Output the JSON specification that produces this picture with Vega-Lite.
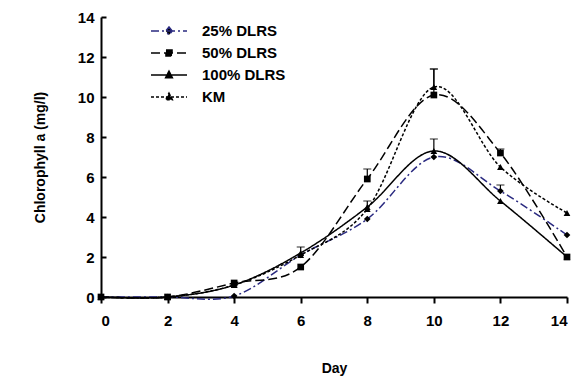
{
  "$schema": "https://vega.github.io/schema/vega-lite/v6.json",
  "width": 466,
  "height": 280,
  "autosize": "none",
  "padding": {"left": 101, "top": 17, "right": 10, "bottom": 88},
  "background": "white",
  "datasets": {
    "series": [
      {"day": 0, "chl": 0, "treatment": "25% DLRS"},
      {"day": 2, "chl": 0, "treatment": "25% DLRS"},
      {"day": 4, "chl": 0.05, "treatment": "25% DLRS"},
      {"day": 6, "chl": 2.1, "treatment": "25% DLRS"},
      {"day": 8, "chl": 3.9, "treatment": "25% DLRS"},
      {"day": 10, "chl": 7.0, "treatment": "25% DLRS"},
      {"day": 12, "chl": 5.3, "treatment": "25% DLRS"},
      {"day": 14, "chl": 3.1, "treatment": "25% DLRS"},
      {"day": 0, "chl": 0, "treatment": "50% DLRS"},
      {"day": 2, "chl": 0, "treatment": "50% DLRS"},
      {"day": 4, "chl": 0.7, "treatment": "50% DLRS"},
      {"day": 6, "chl": 1.5, "treatment": "50% DLRS"},
      {"day": 8, "chl": 5.9, "treatment": "50% DLRS"},
      {"day": 10, "chl": 10.1, "treatment": "50% DLRS"},
      {"day": 12, "chl": 7.2, "treatment": "50% DLRS"},
      {"day": 14, "chl": 2.0, "treatment": "50% DLRS"},
      {"day": 0, "chl": 0, "treatment": "100% DLRS"},
      {"day": 2, "chl": 0, "treatment": "100% DLRS"},
      {"day": 4, "chl": 0.6, "treatment": "100% DLRS"},
      {"day": 6, "chl": 2.2, "treatment": "100% DLRS"},
      {"day": 8, "chl": 4.5, "treatment": "100% DLRS"},
      {"day": 10, "chl": 7.3, "treatment": "100% DLRS"},
      {"day": 12, "chl": 4.8, "treatment": "100% DLRS"},
      {"day": 14, "chl": 2.0, "treatment": "100% DLRS"},
      {"day": 0, "chl": 0, "treatment": "KM"},
      {"day": 2, "chl": 0, "treatment": "KM"},
      {"day": 4, "chl": 0.6, "treatment": "KM"},
      {"day": 6, "chl": 2.1, "treatment": "KM"},
      {"day": 8, "chl": 4.4, "treatment": "KM"},
      {"day": 10, "chl": 10.5, "treatment": "KM"},
      {"day": 12, "chl": 6.5, "treatment": "KM"},
      {"day": 14, "chl": 4.2, "treatment": "KM"}
    ],
    "errors": [
      {"day": 6, "lo": 2.2, "hi": 2.5, "treatment": "100% DLRS"},
      {"day": 8, "lo": 5.9, "hi": 6.4, "treatment": "50% DLRS"},
      {"day": 8, "lo": 4.5, "hi": 4.8, "treatment": "100% DLRS"},
      {"day": 10, "lo": 10.1, "hi": 11.4, "treatment": "50% DLRS"},
      {"day": 10, "lo": 10.5, "hi": 11.4, "treatment": "KM"},
      {"day": 10, "lo": 7.3, "hi": 7.9, "treatment": "100% DLRS"},
      {"day": 12, "lo": 5.3, "hi": 5.6, "treatment": "25% DLRS"},
      {"day": 12, "lo": 7.2, "hi": 7.4, "treatment": "50% DLRS"}
    ]
  },
  "config": {
    "view": {"stroke": null},
    "font": "Liberation Sans",
    "axis": {
      "grid": false,
      "domainColor": "black",
      "domainWidth": 2,
      "tickColor": "black",
      "tickWidth": 2,
      "labelOverlap": false,
      "labelFont": "Liberation Sans",
      "labelFontWeight": "bold",
      "labelFontSize": 15,
      "labelColor": "black",
      "titleFont": "Liberation Sans",
      "titleFontWeight": "bold",
      "titleFontSize": 14,
      "titleColor": "black"
    },
    "legend": {
      "orient": "none",
      "legendX": 59,
      "legendY": 5,
      "padding": 0,
      "title": null,
      "labelFont": "Liberation Sans",
      "labelFontSize": 15,
      "labelFontWeight": "bold",
      "labelColor": "black",
      "symbolSize": 256,
      "symbolStrokeWidth": 1.5,
      "rowPadding": 5,
      "labelOffset": 24
    }
  },
  "layer": [
    {
      "data": {"name": "series"},
      "mark": {"type": "line", "interpolate": "cardinal", "strokeWidth": 1.5},
      "encoding": {
        "x": {"field": "day", "type": "quantitative", "scale": {"domain": [0, 14], "nice": false},
          "axis": {"values": [0, 2, 4, 6, 8, 10, 12, 14], "tickSize": 6, "labelPadding": 10, "title": "Day", "titlePadding": 33}},
        "y": {"field": "chl", "type": "quantitative", "scale": {"domain": [0, 14], "nice": false},
          "axis": {"values": [0, 2, 4, 6, 8, 10, 12, 14], "tickSize": -5, "labelPadding": 12, "title": "Chlorophyll a (mg/l)", "titlePadding": 30}},
        "color": {"field": "treatment", "type": "nominal",
          "scale": {"domain": ["25% DLRS", "50% DLRS", "100% DLRS", "KM"], "range": ["#2a2a80", "black", "black", "black"]},
          "legend": {
            "encode": {
              "symbols": {
                "update": {
                  "shape": {"signal": "datum.value === '25% DLRS' ? 'M-2.25,0L2.25,0M0,-0.5L0.4,0L0,0.5L-0.4,0Z' : datum.value === '50% DLRS' ? 'M-2.25,0L2.25,0M-0.38,-0.38L0.38,-0.38L0.38,0.38L-0.38,0.38Z' : 'M-2.25,0L2.25,0M0,-0.48L0.42,0.34L-0.42,0.34Z'"},
                  "fill": {"value": "black"}
                }
              }
            }
          }},
        "strokeDash": {"field": "treatment", "type": "nominal",
          "scale": {"domain": ["25% DLRS", "50% DLRS", "100% DLRS", "KM"], "range": [[8, 3, 2, 3], [9, 4], [1, 0], [3, 2]]}}
      }
    },
    {
      "data": {"name": "series"},
      "transform": [{"filter": "datum.treatment === '25% DLRS'"}],
      "mark": {"type": "point", "filled": true, "size": 45, "opacity": 1, "color": "black", "shape": "diamond"},
      "encoding": {
        "x": {"field": "day", "type": "quantitative",
          "axis": {"values": [0, 2, 4, 6, 8, 10, 12, 14], "tickSize": 6, "labelPadding": 10, "title": "Day", "titlePadding": 33}},
        "y": {"field": "chl", "type": "quantitative",
          "axis": {"values": [0, 2, 4, 6, 8, 10, 12, 14], "tickSize": -5, "labelPadding": 12, "title": "Chlorophyll a (mg/l)", "titlePadding": 30}}
      }
    },
    {
      "data": {"name": "series"},
      "transform": [{"filter": "datum.treatment === '50% DLRS'"}],
      "mark": {"type": "point", "filled": true, "size": 45, "opacity": 1, "color": "black", "shape": "square"},
      "encoding": {
        "x": {"field": "day", "type": "quantitative",
          "axis": {"values": [0, 2, 4, 6, 8, 10, 12, 14], "tickSize": 6, "labelPadding": 10, "title": "Day", "titlePadding": 33}},
        "y": {"field": "chl", "type": "quantitative",
          "axis": {"values": [0, 2, 4, 6, 8, 10, 12, 14], "tickSize": -5, "labelPadding": 12, "title": "Chlorophyll a (mg/l)", "titlePadding": 30}}
      }
    },
    {
      "data": {"name": "series"},
      "transform": [{"filter": "datum.treatment === '100% DLRS' || datum.treatment === 'KM'"}],
      "mark": {"type": "point", "filled": true, "size": 45, "opacity": 1, "color": "black", "shape": "triangle-up"},
      "encoding": {
        "x": {"field": "day", "type": "quantitative",
          "axis": {"values": [0, 2, 4, 6, 8, 10, 12, 14], "tickSize": 6, "labelPadding": 10, "title": "Day", "titlePadding": 33}},
        "y": {"field": "chl", "type": "quantitative",
          "axis": {"values": [0, 2, 4, 6, 8, 10, 12, 14], "tickSize": -5, "labelPadding": 12, "title": "Chlorophyll a (mg/l)", "titlePadding": 30}}
      }
    },
    {
      "data": {"name": "errors"},
      "mark": {"type": "rule", "color": "black", "strokeWidth": 1.2},
      "encoding": {
        "x": {"field": "day", "type": "quantitative",
          "axis": {"values": [0, 2, 4, 6, 8, 10, 12, 14], "tickSize": 6, "labelPadding": 10, "title": "Day", "titlePadding": 33}},
        "y": {"field": "lo", "type": "quantitative",
          "axis": {"values": [0, 2, 4, 6, 8, 10, 12, 14], "tickSize": -5, "labelPadding": 12, "title": "Chlorophyll a (mg/l)", "titlePadding": 30}},
        "y2": {"field": "hi"}
      }
    },
    {
      "data": {"name": "errors"},
      "mark": {"type": "tick", "color": "black", "thickness": 1.2, "size": 8, "orient": "horizontal"},
      "encoding": {
        "x": {"field": "day", "type": "quantitative",
          "axis": {"values": [0, 2, 4, 6, 8, 10, 12, 14], "tickSize": 6, "labelPadding": 10, "title": "Day", "titlePadding": 33}},
        "y": {"field": "hi", "type": "quantitative",
          "axis": {"values": [0, 2, 4, 6, 8, 10, 12, 14], "tickSize": -5, "labelPadding": 12, "title": "Chlorophyll a (mg/l)", "titlePadding": 30}}
      }
    }
  ]
}
